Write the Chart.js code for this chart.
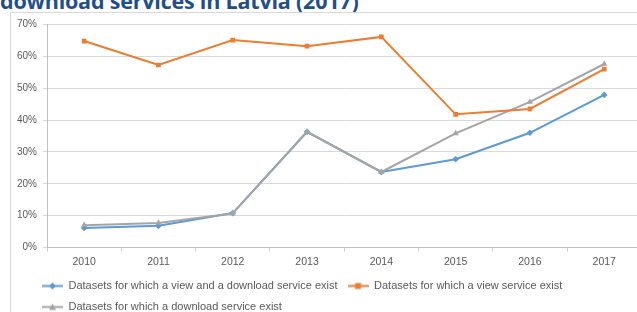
<!DOCTYPE html>
<html>
<head>
<meta charset="utf-8">
<script src="https://cdn.jsdelivr.net/npm/chart.js@4"></script>
<style>
  html, body { margin: 0; padding: 0; background: #fff; overflow: hidden; width: 637px; height: 312px; }
  #title { position: absolute; left: 0px; top: -14px; font-family: "Open Sans", sans-serif; font-weight: bold; font-size: 21.5px; color: #1f4e8c; white-space: nowrap; letter-spacing: -0.2px; }
  #box { position: absolute; left: 10px; top: 12px; width: 660px; height: 330px; border: 1px solid #d9d9d9; box-sizing: border-box; }
  #c { position: absolute; left: 10px; top: 12px; }
</style>
</head>
<body>
<div id="title">download services in Latvia (2017)</div>
<div id="box"></div>
<canvas id="c" width="640" height="300"></canvas>
<script>
const years = ["2010", "2011", "2012", "2013", "2014", "2015", "2016", "2017"];
const viewAndDownload = [6.1, 6.8, 10.8, 36.3, 23.7, 27.7, 36.0, 47.9];
const viewOnly = [64.8, 57.3, 65.1, 63.2, 66.1, 41.8, 43.5, 56.0];
const downloadOnly = [7.0, 7.7, 10.7, 36.3, 23.7, 35.8, 45.7, 57.6];
const yTicks = [0, 10, 20, 30, 40, 50, 60, 70];
const seriesNames = [
  "Datasets for which a view and a download service exist",
  "Datasets for which a view service exist",
  "Datasets for which a download service exist"
];

const FONT = '"Liberation Sans", Arial, sans-serif';
const TEXT = '#595959';

function legendIcon(color, style) {
  const c = document.createElement('canvas');
  c.width = 21; c.height = 9;
  const g = c.getContext('2d');
  g.strokeStyle = color; g.lineWidth = 2;
  g.beginPath(); g.moveTo(0, 4.5); g.lineTo(21, 4.5); g.stroke();
  g.fillStyle = color;
  g.beginPath();
  if (style === 'rect') { g.rect(7.5, 1.5, 6, 6); }
  else if (style === 'rectRot') { g.moveTo(10.5, 1); g.lineTo(14, 4.5); g.lineTo(10.5, 8); g.lineTo(7, 4.5); g.closePath(); }
  else { g.moveTo(10.5, 1); g.lineTo(14, 7.5); g.lineTo(7, 7.5); g.closePath(); }
  g.fill();
  return c;
}

const colors = ["#5b9bd5", "#ed7d31", "#a5a5a5"];
const styles = ["rectRot", "rect", "triangle"];
const datas = [viewAndDownload, viewOnly, downloadOnly];
const icons = colors.map((c, i) => legendIcon(c, styles[i]));

const datasets = seriesNames.map((name, i) => ({
  label: name,
  data: datas[i],
  borderColor: colors[i],
  backgroundColor: colors[i],
  borderWidth: 2,
  pointStyle: styles[i],
  pointRadius: i === 0 ? 3.3 : (i === 1 ? 3.3 : 3.6),
  pointBorderWidth: 0,
  tension: 0,
  order: i === 2 ? 1 : (i === 0 ? 2 : 0)
}));

const LEGEND_H = 41.5;
const XAXIS_H = 23;

const legendPlacer = {
  id: 'legendPlacer',
  beforeLayout(chart) {
    const lg = chart.legend;
    if (lg && !lg._fitPatched) {
      const orig = lg.fit.bind(lg);
      lg.fit = function () { orig(); this.height = LEGEND_H; };
      lg._fitPatched = true;
    }
  },
  afterLayout(chart) {
    chart.legend.left = 22;
  }
};

new Chart(document.getElementById('c'), {
  type: 'line',
  data: { labels: years, datasets: datasets },
  plugins: [legendPlacer],
  options: {
    responsive: false,
    animation: false,
    devicePixelRatio: 1,
    layout: { padding: { left: 0, top: 12.5, right: 8.6, bottom: 0 } },
    plugins: {
      tooltip: { enabled: false },
      legend: {
        position: 'bottom',
        align: 'start',
        labels: {
          usePointStyle: true,
          pointStyleWidth: 21,
          padding: 10,
          color: TEXT,
          font: { family: FONT, size: 11 },
          generateLabels: (chart) => chart.data.datasets.map((ds, i) => ({
            text: ds.label,
            pointStyle: icons[i],
            fillStyle: ds.borderColor,
            strokeStyle: ds.borderColor,
            fontColor: TEXT,
            lineWidth: 0,
            hidden: false,
            datasetIndex: i
          }))
        }
      }
    },
    scales: {
      x: {
        offset: true,
        grid: { offset: true, drawOnChartArea: false, drawTicks: true, tickLength: 4, color: '#d0d0d0' },
        border: { color: '#bfbfbf' },
        ticks: { color: TEXT, font: { family: FONT, size: 10.5 }, padding: 4, maxRotation: 0 },
        afterFit: (s) => { s.height = XAXIS_H; }
      },
      y: {
        min: 0, max: 70,
        afterBuildTicks: (s) => { s.ticks = yTicks.map(v => ({ value: v })); },
        grid: { color: '#d9d9d9', drawTicks: true, tickLength: 4 },
        border: { color: '#bfbfbf' },
        ticks: { color: TEXT, font: { family: FONT, size: 10 }, padding: 6, callback: (v) => v + '%' },
        afterFit: (s) => { s.width = 37; }
      }
    }
  }
});
</script>
</body>
</html>
